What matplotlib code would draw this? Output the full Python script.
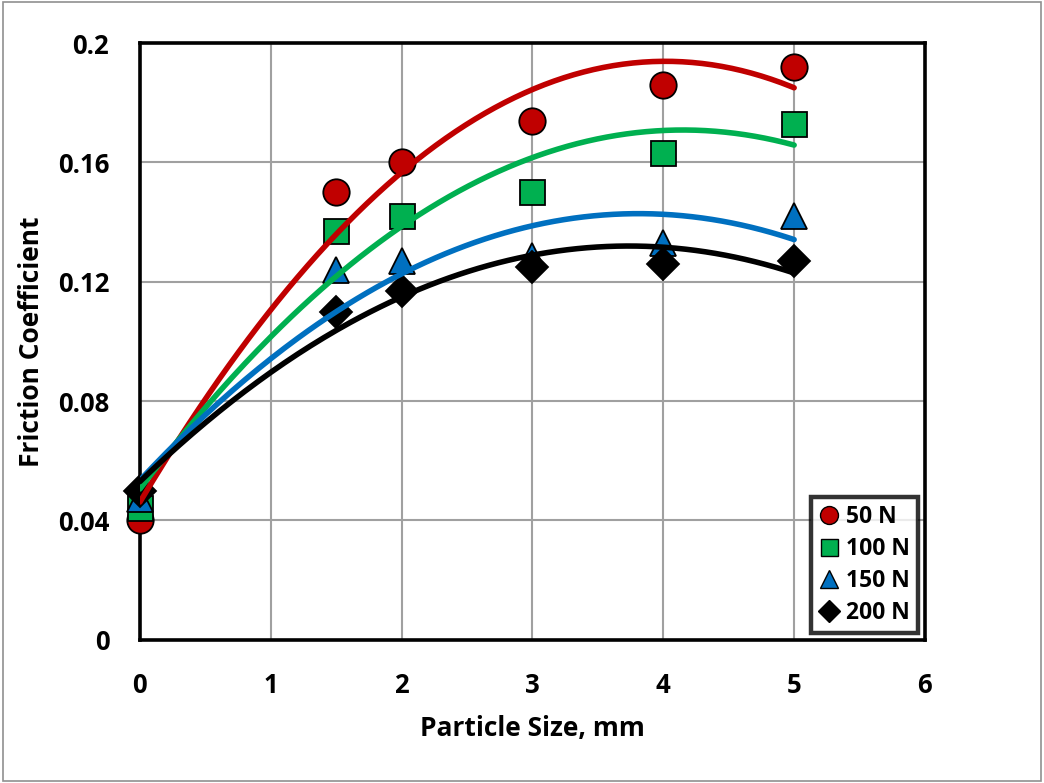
import numpy as np
import matplotlib
matplotlib.use("Agg")
import matplotlib.pyplot as plt
from matplotlib.patches import Rectangle

plt.rcParams['font.family'] = ['Open Sans', 'DejaVu Sans']
plt.rcParams['font.weight'] = 'bold'

# particle size (mm)
particle_size = [0, 1.5, 2, 3, 4, 5]

# friction coefficient per normal load
mu_50 = [0.040, 0.150, 0.160, 0.174, 0.186, 0.192]
mu_100 = [0.044, 0.137, 0.142, 0.150, 0.163, 0.173]
mu_150 = [0.047, 0.124, 0.127, 0.1285, 0.133, 0.142]
mu_200 = [0.050, 0.110, 0.117, 0.125, 0.126, 0.127]

loads = ['50 N', '100 N', '150 N', '200 N']
series = [mu_50, mu_100, mu_150, mu_200]
colors = ['#C00000', '#00B050', '#0070C0', '#000000']
markers = ['o', 's', '^', 'D']
msizes = [19, 18, 19, 16]

fig = plt.figure(figsize=(10.44, 7.83), dpi=100)
ax = fig.add_axes([0.134, 0.183, 0.752, 0.762])

x = np.array(particle_size)
xs = np.linspace(0, 5, 200)
for name, y, c, m, s in zip(loads, series, colors, markers, msizes):
    ax.plot(x, y, linestyle='none', marker=m, markersize=s,
            markerfacecolor=c, markeredgecolor='black',
            markeredgewidth=1.3, zorder=3, clip_on=False, label=name)
for y, c in zip(series, colors):
    # 2nd order polynomial trendline like the Excel one
    coef = np.polyfit(x, y, 2)
    ax.plot(xs, np.polyval(coef, xs), color=c, linewidth=4.0,
            solid_capstyle='round', zorder=4)

ax.set_xlim(0, 6)
ax.set_ylim(0, 0.2)
ax.set_xticks(range(0, 7))
ax.set_yticks([0, 0.04, 0.08, 0.12, 0.16, 0.2])
ax.set_yticklabels(['0', '0.04', '0.08', '0.12', '0.16', '0.2'])
ax.grid(True, color='#a0a0a0', linewidth=1.5)
ax.set_axisbelow(True)
ax.tick_params(length=0, labelsize=18.5)
ax.tick_params(axis='x', pad=23)
ax.tick_params(axis='y', pad=22)
for lbl in ax.get_xticklabels() + ax.get_yticklabels():
    lbl.set_fontweight('bold')
for sp in ax.spines.values():
    sp.set_linewidth(2.6)
    sp.set_color('black')

ax.set_xlabel('Particle Size, mm', fontsize=19, fontweight='bold')
ax.set_ylabel('Friction Coefficient', fontsize=19, fontweight='bold')
ax.xaxis.set_label_coords(0.5, -0.126)
ax.yaxis.set_label_coords(-0.121, 0.5)

leg = ax.legend(handles=[
    plt.Line2D([], [], linestyle='none', marker=m, markersize=s * 0.68,
               markerfacecolor=c, markeredgecolor='black', markeredgewidth=1)
    for m, c, s in zip(markers, colors, msizes)], labels=loads,
    loc='lower right', bbox_to_anchor=(1.0, 0.0), fontsize=16.5,
    frameon=True, fancybox=False, handlelength=0.9, handletextpad=0.3,
    borderpad=0.35, labelspacing=0.35, borderaxespad=0.3)
for t in leg.get_texts():
    t.set_fontweight('bold')
leg.get_frame().set_edgecolor('black')
leg.get_frame().set_linewidth(3.2)
leg.set_zorder(10)

fig.patches.append(Rectangle((0.003, 0.003), 0.994, 0.994, transform=fig.transFigure,
                             fill=False, edgecolor='#909090', linewidth=1.2))

fig.savefig('out.png', dpi=100)
